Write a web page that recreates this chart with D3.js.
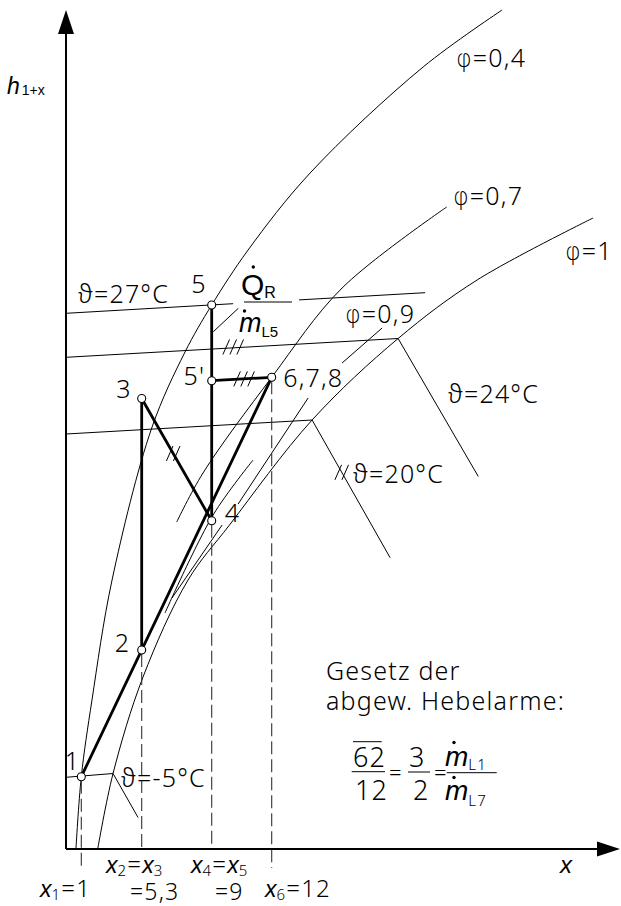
<!DOCTYPE html>
<html>
<head>
<meta charset="utf-8">
<script src="https://cdn.jsdelivr.net/npm/d3@7"></script>
<style>
  html, body { margin: 0; padding: 0; background: #fff; }
  svg { display: block; }
  text { fill: #000; }
  .tech { font-family: 'Noto Sans', 'DejaVu Sans', sans-serif; font-weight: 300; letter-spacing: 1.2px; fill: #000; }
  .greek { font-family: 'DejaVu Sans', sans-serif; font-weight: 200; letter-spacing: 1px; fill: #000; }
  .math { font-family: 'Liberation Sans', Arial, sans-serif; font-style: italic; fill: #000; }
  .sans { font-family: 'Liberation Sans', Arial, sans-serif; fill: #000; }
</style>
</head>
<body>
<svg id="chart" width="621" height="906"></svg>
<script>
// Water load x (g/kg) at the marked states
const xMarks = [1, 5.3, 9, 12];

// Process states in the h,x diagram (x in g/kg, h in diagram units)
const stateNames = ["1", "2", "3", "4", "5", "5'", "6,7,8"];
const stateX = [1, 5.3, 5.3, 9, 9, 9, 12];
const stateH = [7.23, 19.9, 45.05, 32.83, 54.4, 46.83, 47.17];

// Process lines between states (indices into the state arrays)
const processLines = [[0, 6], [1, 2], [2, 3], [4, 3], [5, 6]];

// Lines of constant relative humidity [x, h]
const phi04 = [[0.65, 0], [1, 7.23], [1.76, 14.9], [3.19, 26.9], [5.83, 42.1], [7.59, 49.7],
               [9, 54.4], [10.82, 59.9], [13.92, 67.6], [19.57, 78.2], [23.52, 83.9]];
const phi07 = [[7.15, 32.7], [8.54, 37.6], [12, 47.17], [15.52, 56.1], [20.75, 64.2]];
const phi09a = [[6.9, 25.1], [9.52, 32.4]];
const phi09b = [[10.32, 34.5], [13.82, 45.1]];
const phi09c = [[15.52, 48.6], [17.52, 52.1]];
const phi08 = [[6.53, 23.6], [9.07, 33.4], [11.07, 38.9]];
const phi10 = [[2.17, 0], [3.26, 7.55], [5.37, 17.2], [7.75, 26.9], [9.89, 32.4],
               [14.02, 42.9], [18.32, 51.05], [22.27, 56.9], [28.07, 63.1]];

// Isotherms [x, h]: unsaturated branch up to the saturation line, then fog branch
const theta27a = [[0, 53.57], [10.07, 54.53]];
const theta27b = [[13.37, 54.91], [19.67, 55.63]];
const theta24 = [[0, 49.17], [18.32, 51.05], [22.33, 37.25]];
const theta20 = [[0, 41.5], [14.02, 42.9], [17.92, 29.13]];
const thetaM5 = [[0, 7.17], [3.26, 7.55], [5.04, 3.15]];

const svg = d3.select("#chart");

const xScale = d3.scaleLinear().domain([0, 1, 5.3, 9, 12]).range([66, 81.3, 141.7, 211.7, 271.7]);
const hScale = d3.scaleLinear().domain([0, 83.9]).range([849, 10]);

const curveLine = d3.line().x(d => xScale(d[0])).y(d => hScale(d[1])).curve(d3.curveCatmullRom.alpha(0.5));
const straightLine = d3.line().x(d => xScale(d[0])).y(d => hScale(d[1]));

const thin = svg.append("g").attr("fill", "none").attr("stroke", "#000").attr("stroke-width", 1);

// relative humidity curves
[phi04, phi07, phi10, phi08].forEach(c => thin.append("path").attr("d", curveLine(c)));
[phi09a, phi09b, phi09c].forEach(c => thin.append("path").attr("d", straightLine(c)));

// isotherms
[theta27a, theta27b, theta24, theta20, thetaM5].forEach(c => thin.append("path").attr("d", straightLine(c)));

// dashed drop lines to the x axis
const drops = [{ s: 0, ext: 19 }, { s: 1, ext: 0 }, { s: 3, ext: 0 }, { s: 6, ext: 19 }];
const dashG = svg.append("g").attr("stroke", "#333").attr("stroke-width", 1.1).attr("stroke-dasharray", "13,5");
drops.forEach(d => {
  dashG.append("line")
    .attr("x1", xScale(stateX[d.s])).attr("x2", xScale(stateX[d.s]))
    .attr("y1", hScale(stateH[d.s]) + 4).attr("y2", hScale(0) + d.ext);
});

// axes with arrows
const axes = svg.append("g");
axes.append("line").attr("x1", xScale(0)).attr("x2", xScale(0)).attr("y1", hScale(0)).attr("y2", 32)
  .attr("stroke", "#000").attr("stroke-width", 2);
axes.append("path").attr("d", `M${xScale(0)},10 L${xScale(0) - 8},34 L${xScale(0) + 8},34 Z`).attr("fill", "#000");
axes.append("line").attr("x1", xScale(0)).attr("x2", 600).attr("y1", hScale(0)).attr("y2", hScale(0))
  .attr("stroke", "#000").attr("stroke-width", 2);
axes.append("path").attr("d", `M620,${hScale(0)} L597,${hScale(0) - 7.5} L597,${hScale(0) + 7.5} Z`).attr("fill", "#000");

// process lines
const proc = svg.append("g").attr("stroke", "#000").attr("stroke-width", 2.8).attr("stroke-linecap", "round");
processLines.forEach(([a, b]) => {
  proc.append("line")
    .attr("x1", xScale(stateX[a])).attr("y1", hScale(stateH[a]))
    .attr("x2", xScale(stateX[b])).attr("y2", hScale(stateH[b]));
});

// equal-length marks
function lerp(p, q, t) { return [p[0] + (q[0] - p[0]) * t, p[1] + (q[1] - p[1]) * t]; }
const st = i => [stateX[i], stateH[i]];
const equalMarks = [
  { at: lerp(st(2), st(3), 0.45), n: 2 },
  { at: lerp(st(5), st(6), 0.54), n: 3 },
  { at: lerp(theta24[0], theta24[1], 0.55), n: 3 },
  { at: lerp(theta20[1], theta20[2], 0.38), n: 2 }
];
const marks = svg.append("g").attr("stroke", "#000").attr("stroke-width", 1);
equalMarks.forEach(m => {
  const cx = xScale(m.at[0]), cy = hScale(m.at[1]);
  for (let i = 0; i < m.n; i++) {
    const ox = (i - (m.n - 1) / 2) * 7;
    marks.append("line").attr("x1", cx + ox - 3.3).attr("y1", cy + 7.5).attr("x2", cx + ox + 3.3).attr("y2", cy - 7.5);
  }
});

// state points
svg.append("g").selectAll("circle").data(stateX).join("circle")
  .attr("cx", d => xScale(d)).attr("cy", (d, i) => hScale(stateH[i])).attr("r", 4)
  .attr("fill", "#fff").attr("stroke", "#000").attr("stroke-width", 1.1);

// state labels
const labelOffsets = [[-1, -6.7, "end"], [-11.5, 1.7, "end"], [-10, -1, "end"], [13, 1, "start"],
                      [-5, -12, "end"], [-6.5, 4.3, "end"], [11.5, 9.7, "start"]];
svg.append("g").selectAll("text").data(stateNames).join("text")
  .attr("class", "tech").attr("font-size", 25)
  .attr("x", (d, i) => xScale(stateX[i]) + labelOffsets[i][0])
  .attr("y", (d, i) => hScale(stateH[i]) + labelOffsets[i][1])
  .attr("text-anchor", (d, i) => labelOffsets[i][2])
  .text(d => d);

// rich text helper
function rich(x, y, parts) {
  const t = svg.append("text").attr("x", x).attr("y", y).attr("fill", "#000");
  parts.forEach(p => {
    const s = t.append("tspan").attr("class", p.c || "tech").attr("font-size", p.s || 25).text(p.t);
    if (p.dy) s.attr("dy", p.dy);
    if (p.dx) s.attr("dx", p.dx);
  });
  return t;
}

// curve labels
const phiLabels = [["0,4", 456, 67], ["0,7", 453, 205], ["0,9", 345, 323], ["1", 565, 260]];
phiLabels.forEach(l => rich(l[1], l[2], [{ t: "φ", c: "greek", s: 24 }, { t: "=" + l[0] }]));
const thetaLabels = [["27°C", 78, 303], ["24°C", 448, 403], ["20°C", 353, 483], ["-5°C", 121, 787]];
thetaLabels.forEach(l => rich(l[1], l[2], [{ t: "ϑ=" + l[0] }]));

// axis titles
rich(7, 94, [{ t: "h", c: "math", s: 23 }, { t: "1+x", c: "sans", s: 14, dy: 1, dx: 2 }]);
rich(560, 873, [{ t: "x", c: "math", s: 24 }]);

// marked x values
const num = v => String(v).replace(".", ",");
rich(40, 897, [{ t: "x", c: "math", s: 23 }, { t: "1", s: 15, dy: 3 }, { t: "=" + num(xMarks[0]), s: 24, dy: -3 }]);
rich(106, 873, [{ t: "x", c: "math", s: 23 }, { t: "2", s: 15, dy: 3 }, { t: "=", s: 24, dy: -3 },
               { t: "x", c: "math", s: 23 }, { t: "3", s: 15, dy: 3 }]);
rich(130, 900, [{ t: "=" + num(xMarks[1]), s: 23 }]);
rich(191, 873, [{ t: "x", c: "math", s: 23 }, { t: "4", s: 15, dy: 3 }, { t: "=", s: 24, dy: -3 },
               { t: "x", c: "math", s: 23 }, { t: "5", s: 15, dy: 3 }]);
rich(215, 900, [{ t: "=" + num(xMarks[2]), s: 23 }]);
rich(265, 897, [{ t: "x", c: "math", s: 23 }, { t: "6", s: 15, dy: 3 }, { t: "=" + num(xMarks[3]), s: 24, dy: -3 }]);

// heat flow per air mass
rich(241, 295, [{ t: "Q", c: "sans", s: 30 }, { t: "R", c: "sans", s: 16, dy: 3 }]);
rich(239, 331.7, [{ t: "m", c: "math", s: 27 }, { t: "L5", c: "sans", s: 15, dy: 5 }]);
svg.append("line").attr("x1", 244).attr("x2", 292).attr("y1", 302).attr("y2", 302).attr("stroke", "#000");
svg.append("line").attr("x1", 213.3).attr("y1", 331.7).attr("x2", 238.3).attr("y2", 308.3).attr("stroke", "#000");
[[253.3, 267], [244.5, 311]].forEach(p => svg.append("circle").attr("cx", p[0]).attr("cy", p[1]).attr("r", 1.7).attr("fill", "#000"));

// lever rule
rich(326, 680, [{ t: "Gesetz der" }]);
rich(326, 710, [{ t: "abgew. Hebelarme:" }]);
rich(353, 766.7, [{ t: "62", s: 27 }]);
rich(355, 800, [{ t: "12", s: 27 }]);
rich(389, 780, [{ t: "=", s: 22 }]);
rich(409, 766.7, [{ t: "3", s: 27 }]);
rich(413, 800, [{ t: "2", s: 27 }]);
rich(434, 780, [{ t: "=", s: 22 }]);
rich(445, 765.5, [{ t: "m", c: "math", s: 28 }, { t: "L1", s: 15, dy: 4 }]);
rich(445, 800, [{ t: "m", c: "math", s: 28 }, { t: "L7", s: 15, dy: 6 }]);
const bars = [[353, 381.7, 741.7], [351.7, 385, 771.7], [408, 430, 772], [446.7, 496.7, 772.7]];
bars.forEach(b => svg.append("line").attr("x1", b[0]).attr("x2", b[1]).attr("y1", b[2]).attr("y2", b[2]).attr("stroke", "#000"));
[[454, 742.5], [454, 777.5]].forEach(p => svg.append("circle").attr("cx", p[0]).attr("cy", p[1]).attr("r", 1.7).attr("fill", "#000"));
</script>
</body>
</html>
